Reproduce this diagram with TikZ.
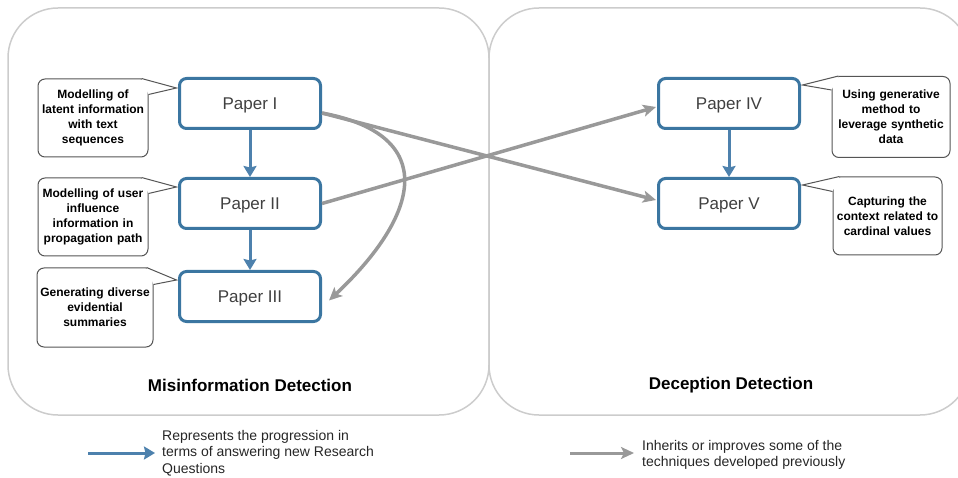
\documentclass[tikz,border=0pt]{standalone}
\usepackage{fontspec}
\setmainfont{Liberation Sans}
\usetikzlibrary{arrows.meta,calc}
\definecolor{paperblue}{HTML}{3B76A1}
\definecolor{arrowblue}{HTML}{4D81AD}
\definecolor{arrowgray}{HTML}{999999}
\definecolor{panelgray}{HTML}{CCCCCC}
\definecolor{labelgray}{HTML}{404040}
\definecolor{calloutgray}{HTML}{555555}
\tikzset{
  panel/.style={draw=panelgray, line width=1.5pt, rounded corners=50pt},
  paper/.style={draw=paperblue, line width=3pt, rounded corners=7pt, fill=white,
    minimum width=141pt, minimum height=50pt, inner sep=0pt, text depth=0pt,
    text=labelgray, font=\fontsize{17}{20}\selectfont},
  callout/.style={draw=calloutgray, line width=1pt, rounded corners=7pt, fill=white,
    inner sep=0pt, align=center, font=\fontsize{12}{15}\selectfont\bfseries},
  pointer/.style={draw=calloutgray, line width=1pt, line join=miter},
  progress/.style={draw=arrowblue, line width=3pt,
    -{Stealth[length=11pt, width=13pt, inset=1.5pt]}},
  inherit/.style={draw=arrowgray, line width=3.5pt,
    -{Stealth[length=13pt, width=12pt, inset=3pt]}},
  title/.style={font=\fontsize{17}{20}\selectfont\bfseries},
  legend/.style={anchor=west, align=left, inner sep=0pt, text=black!85,
    font=\fontsize{14}{16.5}\selectfont},
}
% Callout box with a pointer: #1 base point A, #2 base point B, #3 tip
\newcommand{\calloutpointer}[3]{%
  \fill[white] (#1) -- (#3) -- (#2) -- cycle;
  \draw[pointer] (#1) -- (#3) -- (#2);
}
\begin{document}
\begin{tikzpicture}[x=1pt, y=-1pt]
\useasboundingbox (0,0) rectangle (958,478);

% the two research areas
\draw[panel] (8,8) rectangle (489,415);
\draw[panel] (489,8) rectangle (970,415);
\node[title] (t1) at (250,385) {Misinformation Detection};
\node[title] (t2) at (731,385) {Deception Detection};

% papers
\node[paper] (p1) at (250,103.5) {Paper I};
\node[paper] (p2) at (250,203.5) {Paper II};
\node[paper] (p3) at (250,296.5) {Paper III};
\node[paper] (p4) at (729,103.5) {Paper IV};
\node[paper] (p5) at (729,203.5) {Paper V};

% callouts describing each paper
\node[callout, minimum width=110pt, minimum height=78pt, text width=108pt] (c1) at (93,118)
  {Modelling of\\latent information\\with text\\sequences};
\node[callout, minimum width=110pt, minimum height=78pt, text width=108pt] (c2) at (93,217)
  {Modelling of user\\influence\\information in\\propagation path};
\node[callout, minimum width=116pt, minimum height=79pt, text width=114pt] (c3) at (95,307.5)
  {Generating diverse\\evidential\\summaries};
\node[callout, minimum width=118pt, minimum height=81pt, text width=116pt] (c4) at (891,117)
  {Using generative\\method to\\leverage synthetic\\data};
\node[callout, minimum width=109pt, minimum height=78pt, text width=107pt] (c5) at (887.5,216)
  {Capturing the\\context related to\\cardinal values};

\coordinate (c1a) at ($(c1.north east)+(-7,0)$);
\coordinate (c1b) at ($(c1.north east)+(0,16)$);
\coordinate (c1t) at ($(p1.west)+(-1.5,-15.5)$);
\calloutpointer{c1a}{c1b}{c1t}
\coordinate (c2a) at ($(c2.north east)+(-7,0)$);
\coordinate (c2b) at ($(c2.north east)+(0,16)$);
\coordinate (c2t) at ($(p2.west)+(-1.5,-16.5)$);
\calloutpointer{c2a}{c2b}{c2t}
\coordinate (c3a) at ($(c3.north east)+(-7,0)$);
\coordinate (c3b) at ($(c3.north east)+(0,17)$);
\coordinate (c3t) at ($(p3.west)+(-1.5,-16.5)$);
\calloutpointer{c3a}{c3b}{c3t}
\coordinate (c4a) at ($(c4.north west)+(7,0)$);
\coordinate (c4b) at ($(c4.north west)+(0,14)$);
\coordinate (c4t) at ($(p4.east)+(1.5,-18.5)$);
\calloutpointer{c4a}{c4b}{c4t}
\coordinate (c5a) at ($(c5.north west)+(7,0)$);
\coordinate (c5b) at ($(c5.north west)+(0,15)$);
\coordinate (c5t) at ($(p5.east)+(1.5,-18.5)$);
\calloutpointer{c5a}{c5b}{c5t}

% progression between papers
\draw[progress] (p1) -- (p2);
\draw[progress] (p2) -- (p3);
\draw[progress] (p4) -- (p5);

% inherited techniques
\draw[inherit] ($(p1.east)+(0,9.5)$) -- ($(p5.west)+(-1,-3.5)$);
\draw[inherit] (p2.east) -- ($(p4.west)+(-1,3.5)$);
\draw[inherit] ($(p1.east)+(0,9.5)$) .. controls (440,135) and (420,215) .. ($(p3.east)+(7,4)$);

% legend
\coordinate (l1s) at (88,453);
\coordinate (l1e) at (155,453);
\draw[progress] (l1s) -- (l1e);
\node[legend] (l1) at (162,453)
  {Represents the progression in\\terms of answering new Research\\Questions};
\coordinate (l2s) at (570,453);
\coordinate (l2e) at (634,453);
\draw[inherit, line width=3pt] (l2s) -- (l2e);
\node[legend] (l2) at (642,455)
  {Inherits or improves some of the\\techniques developed previously};
\end{tikzpicture}
\end{document}
